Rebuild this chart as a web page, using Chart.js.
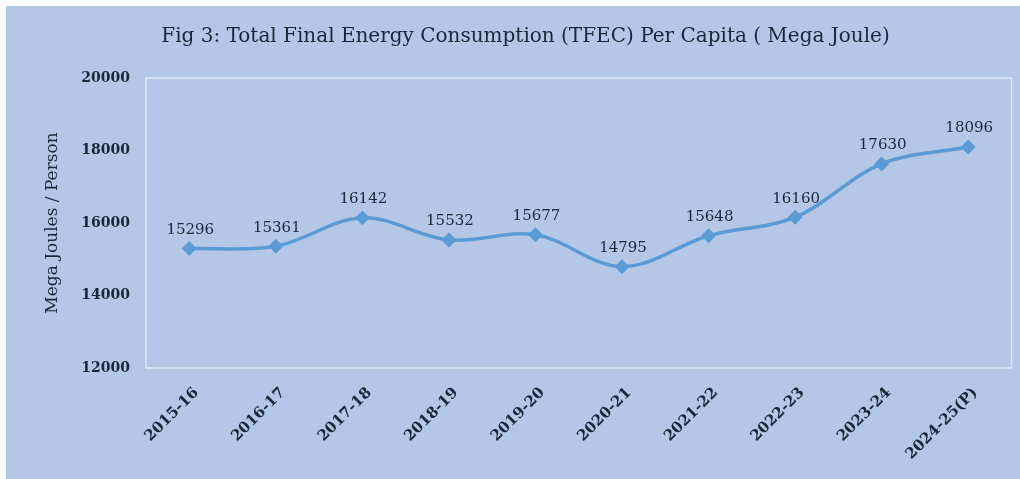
<!DOCTYPE html>
<html>
<head>
<meta charset="utf-8">
<script src="https://cdn.jsdelivr.net/npm/chart.js@4/dist/chart.umd.min.js"></script>
<style>
    html, body { margin: 0; padding: 0; background: #ffffff; }
    #wrap { position: absolute; left: 6px; top: 6px; width: 1014px; height: 473px; background: #b4c7e7; }
</style>
</head>
<body>
<div id="wrap"><canvas id="tfecChart" width="1014" height="473"></canvas></div>
<script>
// ===== DATA =====
const years = ['2015-16', '2016-17', '2017-18', '2018-19', '2019-20', '2020-21', '2021-22', '2022-23', '2023-24', '2024-25(P)'];
const tfecPerCapita = [15296, 15361, 16142, 15532, 15677, 14795, 15648, 16160, 17630, 18096];
const yTicks = [12000, 14000, 16000, 18000, 20000];

const SERIF = '"DejaVu Serif", "Liberation Serif", Georgia, serif';
const LINE_BLUE = '#5b9bd5';
const TEXT_DARK = '#1b2638';

// Plot frame drawn around the chart area (light border like the original)
const plotFrame = {
    id: 'plotFrame',
    beforeDatasetsDraw(chart) {
        const { ctx, chartArea: a } = chart;
        ctx.save();
        ctx.strokeStyle = 'rgba(232, 239, 250, 0.85)';
        ctx.lineWidth = 1.5;
        ctx.strokeRect(a.left, a.top, a.right - a.left, a.bottom - a.top);
        ctx.restore();
    }
};

// Value labels above each point
const valueLabels = {
    id: 'valueLabels',
    afterDatasetsDraw(chart) {
        const { ctx } = chart;
        const meta = chart.getDatasetMeta(0);
        ctx.save();
        ctx.font = '15px ' + SERIF;
        ctx.fillStyle = TEXT_DARK;
        ctx.textAlign = 'center';
        ctx.textBaseline = 'bottom';
        meta.data.forEach((pt, i) => {
            ctx.fillText(String(tfecPerCapita[i]), pt.x + 1, pt.y - 11);
        });
        ctx.restore();
    }
};

new Chart(document.getElementById('tfecChart'), {
    type: 'line',
    data: {
        labels: years,
        datasets: [{
            data: tfecPerCapita,
            borderColor: LINE_BLUE,
            backgroundColor: LINE_BLUE,
            borderWidth: 3.5,
            tension: 0.35,
            pointStyle: 'rectRot',
            pointRadius: 5,
            pointHoverRadius: 5
        }]
    },
    options: {
        responsive: false,
        animation: false,
        layout: { padding: { left: 28, right: 3, top: 0, bottom: 0 } },
        plugins: {
            legend: { display: false },
            tooltip: { enabled: false },
            title: {
                display: true,
                text: 'Fig 3: Total Final Energy Consumption (TFEC) Per Capita ( Mega Joule)',
                color: TEXT_DARK,
                font: { family: SERIF, size: 20, weight: 'normal' },
                padding: { top: 19, bottom: 29 }
            }
        },
        scales: {
            x: {
                offset: true,
                grid: { display: false, drawTicks: false },
                border: { display: false },
                ticks: {
                    color: TEXT_DARK,
                    font: { family: SERIF, size: 15, weight: 'bold' },
                    maxRotation: 45,
                    minRotation: 45,
                    padding: 16,
                    labelOffset: 7
                },
                afterFit(scale) { scale.height = 111; }
            },
            y: {
                min: 12000,
                max: 20000,
                afterBuildTicks(scale) { scale.ticks = yTicks.map(v => ({ value: v })); },
                grid: { display: false, drawTicks: false },
                border: { display: false },
                ticks: {
                    color: TEXT_DARK,
                    font: { family: SERIF, size: 14, weight: 'bold' },
                    padding: 16,
                    callback: (v) => String(v)
                },
                title: {
                    display: true,
                    text: 'Mega Joules / Person',
                    color: TEXT_DARK,
                    font: { family: SERIF, size: 17, weight: 'normal' },
                    padding: { top: 8, bottom: 0 }
                },
                afterFit(scale) { scale.width = 112; }
            }
        }
    },
    plugins: [plotFrame, valueLabels]
});
</script>
</body>
</html>
